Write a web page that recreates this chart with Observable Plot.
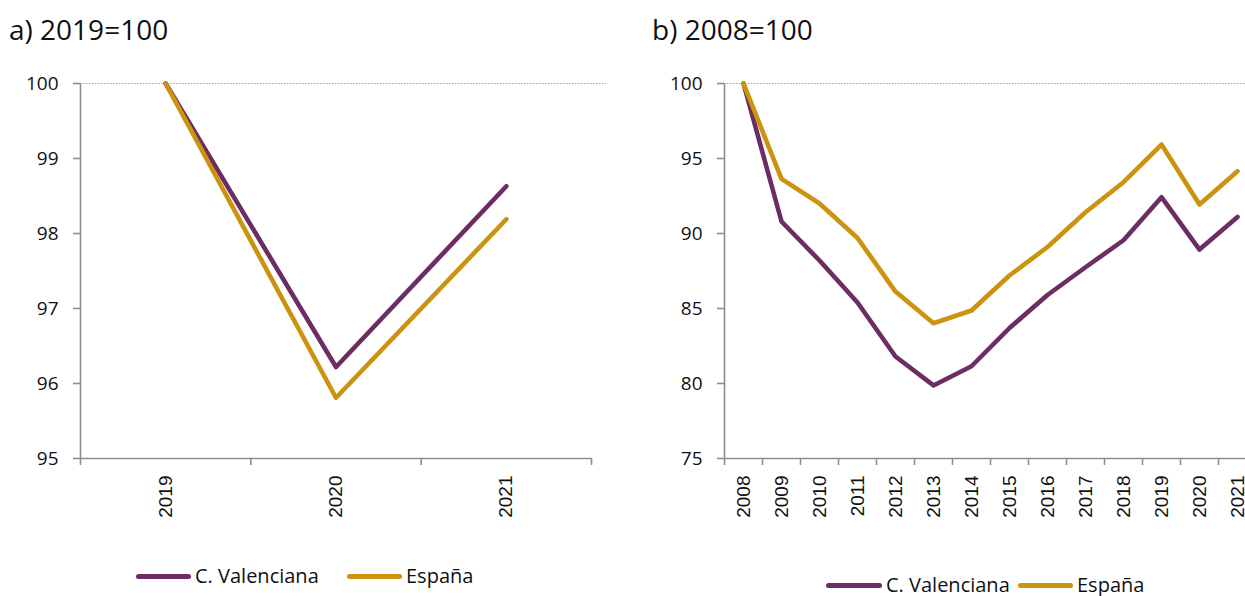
<!DOCTYPE html>
<html><head><meta charset="utf-8">
<script src="https://cdn.jsdelivr.net/npm/d3@7"></script>
<script src="https://cdn.jsdelivr.net/npm/@observablehq/plot@0.6"></script>
<style>
html,body{margin:0;padding:0;overflow:hidden;background:#fff;width:1245px;height:596px;position:relative;}
.abs{position:absolute;}
.title{font-family:"Open Sans";font-size:28px;line-height:28px;color:#111;white-space:nowrap;}
.leg{font-family:"Open Sans";font-size:20px;line-height:20px;color:#111;white-space:nowrap;display:flex;align-items:center;}
.sw{display:inline-block;height:5px;border-radius:3px;margin-right:4px;}
</style></head><body>
<script>
const names = ["C. Valenciana", "España"];
const colors = ["#6b2d64", "#cc9310"];

const yearsA = [2019, 2020, 2021];
const valenciaA = [100, 96.22, 98.63];
const espanaA = [100, 95.81, 98.19];
const yTicksA = [95, 96, 97, 98, 99, 100];

const yearsB = [2008, 2009, 2010, 2011, 2012, 2013, 2014, 2015, 2016, 2017, 2018, 2019, 2020, 2021];
const valenciaB = [100, 90.8, 88.2, 85.4, 81.8, 79.87, 81.15, 83.7, 85.9, 87.75, 89.55, 92.42, 88.93, 91.1];
const espanaB = [100, 93.64, 92.0, 89.7, 86.13, 84.02, 84.87, 87.2, 89.1, 91.42, 93.42, 95.93, 91.93, 94.15];
const yTicksB = [75, 80, 85, 90, 95, 100];

function makePanel({years, series, yTicks, width, marginLeft, marginRight, xRange}) {
  const data = [];
  series.forEach((vals, s) => years.forEach((yr, i) => data.push({year: yr, value: vals[i], series: names[s]})));
  const lo = years[0] - 0.5, hi = years[years.length - 1] + 0.5;
  const bounds = d3.range(years.length + 1).map(i => lo + i);
  const y0 = yTicks[0], y1 = yTicks[yTicks.length - 1];
  const axisColor = "#8e8e8e";
  return Plot.plot({
    width, height: 480, marginLeft, marginRight, marginTop: 23, marginBottom: 82,
    style: {fontFamily: "Open Sans", fontSize: "19px", color: "#111", background: "transparent", overflow: "visible"},
    x: {type: "linear", domain: [lo, hi], range: xRange},
    y: {domain: [y0, y1]},
    color: {domain: names, range: colors},
    marks: [
      Plot.ruleY([y1], {stroke: "#a0a0a0", strokeDasharray: "1.5,1.5", strokeWidth: 1}),
      Plot.ruleX([lo], {y1: y0, y2: y1, stroke: axisColor, strokeWidth: 1.6}),
      Plot.ruleY([y0], {x1: lo, x2: hi, stroke: axisColor, strokeWidth: 1.6}),
      Plot.axisY({ticks: yTicks, tickSize: 7, tickPadding: 15, tickFormat: d => String(d), stroke: axisColor, strokeWidth: 1.6, fill: "#111", label: null}),
      Plot.axisX({ticks: bounds, tickSize: 7, tickFormat: () => "", stroke: axisColor, strokeWidth: 1.6, label: null}),
      Plot.axisX({ticks: years, tickSize: 0, tickRotate: -90, tickPadding: 17, tickFormat: d => String(d), fontFamily: "Liberation Sans", fontSize: 19, fill: "#111", label: null}),
      Plot.line(data, {x: "year", y: "value", z: "series", stroke: "series", strokeWidth: 4.6, strokeLinejoin: "round", strokeLinecap: "round"})
    ]
  });
}

function place(el, left, top) { el.classList.add("abs"); el.style.left = left + "px"; el.style.top = top + "px"; document.body.appendChild(el); return el; }

const svgA = makePanel({years: yearsA, series: [valenciaA, espanaA], yTicks: yTicksA, width: 620, marginLeft: 80, marginRight: 14, xRange: [80, 591]});
place(svgA, 0, 60);
const svgB = makePanel({years: yearsB, series: [valenciaB, espanaB], yTicks: yTicksB, width: 640, marginLeft: 104, marginRight: 0, xRange: [104, 636]});
place(svgB, 620, 60);

function title(text, left, top) { const d = document.createElement("div"); d.className = "title"; d.textContent = text; place(d, left, top); }
title("a) 2019=100", 9, 15);
title("b) 2008=100", 652, 15);

function legendItem(name, color, swLeft, swWidth, cy) {
  const d = document.createElement("div"); d.className = "leg";
  const s = document.createElement("span"); s.className = "sw"; s.style.width = swWidth + "px"; s.style.background = color;
  d.appendChild(s); d.appendChild(document.createTextNode(name));
  place(d, swLeft, cy - 10);
}
legendItem(names[0], colors[0], 136, 55, 576);
legendItem(names[1], colors[1], 347, 55, 576);
legendItem(names[0], colors[0], 826, 56, 585);
legendItem(names[1], colors[1], 1018, 55, 585);
</script>
</body></html>
